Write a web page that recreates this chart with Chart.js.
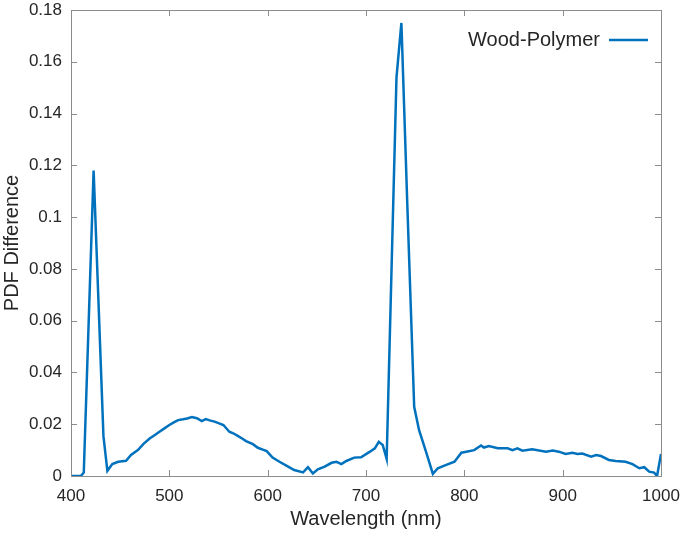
<!DOCTYPE html>
<html>
<head>
<meta charset="utf-8">
<script src="https://cdn.jsdelivr.net/npm/chart.js@4"></script>
<style>
  html, body { margin: 0; padding: 0; background: #fff; }
  #wrap { width: 685px; height: 536px; }
</style>
</head>
<body>
<div id="wrap"><canvas id="myChart" width="685" height="536"></canvas></div>
<script>
// wavelength (nm) and PDF difference
const wavelengths = [400, 406, 410, 413, 423, 433, 437, 442, 448, 456, 461, 468, 474, 480, 486, 490, 495, 500, 505, 509,
    514, 518, 523, 528, 533, 537, 541, 546, 550, 555, 561, 565, 570, 574, 578, 585, 590, 595, 599, 605,
    612, 619, 627, 636, 641, 646, 651, 658, 665, 670, 675, 680, 688, 695, 704, 709, 713, 717, 721, 731,
    736, 742, 749, 754, 761, 768, 773, 781, 790, 797, 802, 810, 817, 820, 825, 834, 844, 849, 854, 859,
    869, 883, 890, 896, 903, 910, 915, 920, 929, 934, 939, 947, 954, 964, 971, 978, 983, 988, 993, 996, 1000];
const pdfDiff = [0, 0, 0, 0.0013, 0.118, 0.0154, 0.002, 0.0046, 0.0055, 0.0059, 0.0081, 0.0100, 0.0125, 0.0145, 0.0160, 0.0171, 0.0184, 0.0197, 0.0208, 0.0216,
    0.0219, 0.0222, 0.0228, 0.0223, 0.0212, 0.0220, 0.0215, 0.0210, 0.0204, 0.0197, 0.0171, 0.0165, 0.0154, 0.0145, 0.0135, 0.0123, 0.0109, 0.0102, 0.0096, 0.0071,
    0.0055, 0.0040, 0.0023, 0.0014, 0.0034, 0.0010, 0.0026, 0.0036, 0.0051, 0.0055, 0.0046, 0.0058, 0.0071, 0.0072, 0.0094, 0.0107, 0.0132, 0.0120, 0.0066, 0.154,
    0.175, 0.105, 0.0267, 0.0177, 0.0094, 0.0008, 0.0030, 0.0042, 0.0055, 0.0090, 0.0094, 0.0100, 0.0118, 0.0110, 0.0116, 0.0107, 0.0107, 0.0100, 0.0107, 0.0098,
    0.0103, 0.0094, 0.0098, 0.0094, 0.0085, 0.0090, 0.0085, 0.0087, 0.0075, 0.0081, 0.0077, 0.0062, 0.0058, 0.0055, 0.0046, 0.0030, 0.0034, 0.0017, 0.0013, 0.0000, 0.0085];

const xTicks = [400, 500, 600, 700, 800, 900, 1000];
const yTicks = [0, 0.02, 0.04, 0.06, 0.08, 0.1, 0.12, 0.14, 0.16, 0.18];
const yTickLabels = ['0', '0.02', '0.04', '0.06', '0.08', '0.1', '0.12', '0.14', '0.16', '0.18'];
const seriesName = 'Wood-Polymer';

const lineColor = '#0072BD';
const axisColor = '#8c8c8c';
const textColor = '#262626';
const fontFamily = 'Arial, "Liberation Sans", sans-serif';

// box around the axes with inward ticks on all four sides, plus the legend
const boxPlugin = {
    id: 'boxPlugin',
    afterDraw(chart) {
        const ctx = chart.ctx;
        const a = chart.chartArea;
        const xs = chart.scales.x, ys = chart.scales.y;
        const t = 6;
        ctx.save();
        ctx.strokeStyle = axisColor;
        ctx.lineWidth = 1;
        ctx.strokeRect(a.left + 0.5, a.top + 0.5, a.right - a.left, a.bottom - a.top);
        ctx.beginPath();
        xTicks.forEach(v => {
            const px = Math.round(xs.getPixelForValue(v)) + 0.5;
            ctx.moveTo(px, a.bottom); ctx.lineTo(px, a.bottom - t);
            ctx.moveTo(px, a.top); ctx.lineTo(px, a.top + t);
        });
        yTicks.forEach(v => {
            const py = Math.round(ys.getPixelForValue(v)) + 0.5;
            ctx.moveTo(a.left, py); ctx.lineTo(a.left + t, py);
            ctx.moveTo(a.right, py); ctx.lineTo(a.right - t, py);
        });
        ctx.stroke();

        // legend: text then line sample, no box
        const ly = a.top + 30;
        const lineEnd = a.right - 13;
        const lineStart = lineEnd - 39;
        ctx.strokeStyle = lineColor;
        ctx.lineWidth = 2.5;
        ctx.beginPath();
        ctx.moveTo(lineStart, ly); ctx.lineTo(lineEnd, ly);
        ctx.stroke();
        ctx.fillStyle = textColor;
        ctx.font = '20px ' + fontFamily;
        ctx.textAlign = 'right';
        ctx.textBaseline = 'middle';
        ctx.fillText(chart.data.datasets[0].label, lineStart - 9, ly);
        ctx.restore();
    }
};

document.addEventListener("DOMContentLoaded", function () {
    const ctx = document.getElementById('myChart').getContext('2d');
    const points = wavelengths.map((w, i) => ({ x: w, y: pdfDiff[i] }));

    new Chart(ctx, {
        type: 'line',
        data: {
            datasets: [{
                label: seriesName,
                data: points,
                borderColor: lineColor,
                borderWidth: 2.5,
                pointRadius: 0,
                tension: 0,
                fill: false
            }]
        },
        options: {
            responsive: false,
            animation: false,
            layout: { padding: { top: 10, right: 24, left: 0, bottom: 0 } },
            plugins: {
                legend: { display: false },
                tooltip: { enabled: false }
            },
            scales: {
                x: {
                    type: 'linear',
                    min: 400,
                    max: 1000,
                    afterBuildTicks: s => { s.ticks = xTicks.map(v => ({ value: v })); },
                    afterFit: s => { s.height = 60; s.paddingLeft = 0; s.paddingRight = 0; },
                    grid: { display: false, drawTicks: false },
                    border: { display: false },
                    ticks: {
                        color: textColor,
                        font: { family: fontFamily, size: 17 },
                        padding: 10,
                        maxRotation: 0,
                        callback: v => String(v)
                    },
                    title: {
                        display: true,
                        text: 'Wavelength (nm)',
                        color: textColor,
                        font: { family: fontFamily, size: 20 },
                        padding: { top: 4, bottom: 5 }
                    }
                },
                y: {
                    min: 0,
                    max: 0.18,
                    afterBuildTicks: s => { s.ticks = yTicks.map(v => ({ value: v })); },
                    afterFit: s => { s.width = 71; s.paddingTop = 0; s.paddingBottom = 0; },
                    grid: { display: false, drawTicks: false },
                    border: { display: false },
                    ticks: {
                        color: textColor,
                        font: { family: fontFamily, size: 17 },
                        padding: 9,
                        callback: (v, i) => yTickLabels[i]
                    },
                    title: {
                        display: true,
                        text: 'PDF Difference',
                        color: textColor,
                        font: { family: fontFamily, size: 20 },
                        padding: { top: 0, bottom: 0 }
                    }
                }
            }
        },
        plugins: [boxPlugin]
    });
});
</script>
</body>
</html>
